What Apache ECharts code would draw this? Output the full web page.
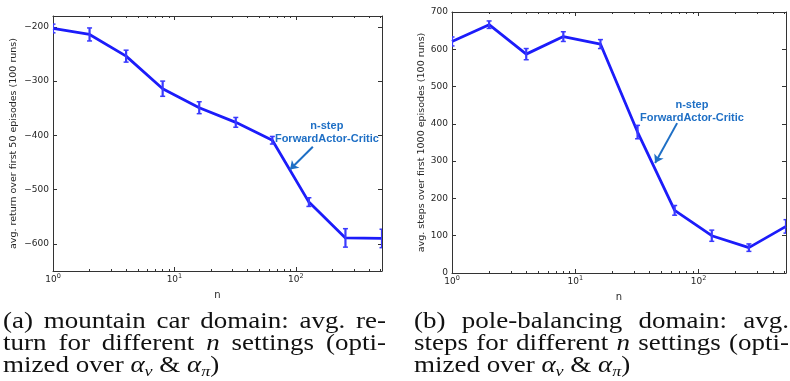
<!DOCTYPE html>
<html>
<head>
<meta charset="utf-8">
<script src="https://cdn.jsdelivr.net/npm/echarts@6/dist/echarts.min.js"></script>
<style>
  html, body { margin: 0; padding: 0; background: #fff; }
  #chart { width: 790px; height: 381px; }
</style>
</head>
<body>
<div id="chart"></div>
<script>
// n settings (x axis, log scale)
const nSteps = [1, 2, 4, 8, 16, 32, 64, 128, 256, 512];
// (a) mountain car: avg. return over first 50 episodes
const returnMean = [-203, -214, -254, -314, -349, -376, -409, -523, -589, -590];
const returnErr = [8, 12, 11, 14, 11, 9, 7, 8, 17, 17];
// (b) pole-balancing: avg. steps over first 1000 episodes
const stepsMean = [621, 666, 587, 634, 614, 378, 168, 100, 68, 125];
const stepsErr = [12, 10, 15, 13, 12, 18, 13, 15, 10, 18];
// ticks
const returnTicks = [-600, -500, -400, -300, -200];
const stepsTicks = [0, 100, 200, 300, 400, 500, 600, 700];
const decadeTicks = [1, 10, 100];
const minorTicks = [2, 3, 4, 5, 6, 7, 8, 9, 20, 30, 40, 50, 60, 70, 80, 90, 200, 300, 400, 500];
// annotation anchors, in data coordinates [n, value]
const annoTextA = [180, -394];
const annoArrowA = [[138, -421], [89.5, -463]];
const annoTextB = [88.4, 434];
const annoArrowB = [[67, 402], [44.4, 295]];

const captionA = [
  '(a) mountain car domain: avg. re-',
  'turn for different {n} settings (opti-',
  'mized over {α}[v] & {α}[π])'
];
const captionB = [
  '(b) pole-balancing domain: avg.',
  'steps for different {n} settings (opti-',
  'mized over {α}[v] & {α}[π])'
];

const sans = '"DejaVu Sans", sans-serif';
const axisColor = '#333';
const labelColor = '#262626';
const lineBlue = '#1c1cfa';
const barBlue = '#3a3aff';
const annoBlue = '#1e6fc5';

function minusFmt(v) {
  return String(v).replace('-', '\u2212');
}

function pow10Fmt(v) {
  const e = Math.round(Math.log10(v));
  return '{b|10}{s|' + e + '}';
}

function xAxes(grid) {
  const base = {
    type: 'log', logBase: 10, min: 1, max: 512, gridIndex: grid,
    splitLine: { show: false }
  };
  const line = { show: true, onZero: false, lineStyle: { color: axisColor, width: 1 } };
  return [
    {
      ...base, position: 'bottom', axisLine: line,
      axisTick: { inside: true, length: 4, customValues: decadeTicks, lineStyle: { color: axisColor } },
      axisLabel: {
        customValues: decadeTicks, formatter: pow10Fmt, margin: 3,
        rich: {
          b: { fontSize: 9, fontFamily: sans, color: labelColor, lineHeight: 10, verticalAlign: 'bottom' },
          s: { fontSize: 6.5, fontFamily: sans, color: labelColor, lineHeight: 7, padding: [0, 0, 6, 0] }
        }
      },
      name: 'n', nameLocation: 'middle', nameGap: 16,
      nameTextStyle: { fontSize: 10, fontFamily: sans, color: labelColor }
    },
    {
      ...base, position: 'bottom', axisLine: { show: false, onZero: false },
      axisTick: { inside: true, length: 2, customValues: minorTicks, lineStyle: { color: axisColor } },
      axisLabel: { show: false }
    },
    {
      ...base, position: 'top', axisLine: line,
      axisTick: { inside: true, length: 4, customValues: decadeTicks, lineStyle: { color: axisColor } },
      axisLabel: { show: false }
    },
    {
      ...base, position: 'top', axisLine: { show: false, onZero: false },
      axisTick: { inside: true, length: 2, customValues: minorTicks, lineStyle: { color: axisColor } },
      axisLabel: { show: false }
    }
  ];
}

function yAxes(grid, min, max, ticks, name, nameGap) {
  const base = {
    type: 'value', min: min, max: max, gridIndex: grid,
    splitLine: { show: false },
    axisLine: { show: true, onZero: false, lineStyle: { color: axisColor, width: 1 } },
    axisTick: { inside: true, length: 4, customValues: ticks, lineStyle: { color: axisColor } }
  };
  return [
    {
      ...base, position: 'left',
      axisLabel: { customValues: ticks, formatter: minusFmt, margin: 4, fontSize: 9, fontFamily: sans, color: labelColor },
      name: name, nameLocation: 'middle', nameGap: nameGap, nameRotate: 90,
      nameTextStyle: { fontSize: 9.5, fontFamily: sans, color: labelColor }
    },
    { ...base, position: 'right', axisLabel: { show: false } }
  ];
}

function errorBars(xi, yi, mean, err) {
  return {
    type: 'custom', xAxisIndex: xi, yAxisIndex: yi, clip: true, z: 3,
    data: nSteps.map((n, i) => [n, mean[i], err[i]]),
    renderItem: function (params, api) {
      const x = api.value(0), y = api.value(1), e = api.value(2);
      const hi = api.coord([x, y + e]);
      const lo = api.coord([x, y - e]);
      const cap = { stroke: barBlue, lineWidth: 1.5 };
      return {
        type: 'group',
        children: [
          { type: 'line', shape: { x1: hi[0], y1: hi[1], x2: lo[0], y2: lo[1] }, style: { stroke: barBlue, lineWidth: 2.2 } },
          { type: 'line', shape: { x1: hi[0] - 2.5, y1: hi[1], x2: hi[0] + 2.5, y2: hi[1] }, style: cap },
          { type: 'line', shape: { x1: lo[0] - 2.5, y1: lo[1], x2: lo[0] + 2.5, y2: lo[1] }, style: cap }
        ]
      };
    }
  };
}

function lineSeries(xi, yi, mean, textAt, arrow) {
  return {
    type: 'line', xAxisIndex: xi, yAxisIndex: yi, z: 2,
    data: nSteps.map((n, i) => [n, mean[i]]),
    symbol: 'none', smooth: false,
    lineStyle: { color: lineBlue, width: 2.8 },
    itemStyle: { color: lineBlue },
    markLine: {
      silent: true, symbol: ['none', 'arrow'], symbolSize: 8,
      lineStyle: { color: annoBlue, width: 2, type: 'solid' },
      label: { show: false },
      data: [[{ coord: arrow[0] }, { coord: arrow[1] }]]
    },
    markPoint: {
      silent: true, symbol: 'rect', symbolSize: 1,
      itemStyle: { color: 'rgba(0,0,0,0)' },
      label: {
        show: true, position: 'inside', formatter: 'n-step\nForwardActor-Critic',
        fontFamily: '"Liberation Sans", Arial, sans-serif', fontWeight: 'bold',
        fontSize: 11, lineHeight: 13, color: annoBlue, align: 'center'
      },
      data: [{ coord: textAt }]
    }
  };
}

// caption layout: justified lines like the LaTeX source
const capFont = '"Liberation Serif", "DejaVu Serif", serif';
const capSize = 22.5;
const subSize = 15;
const capStretch = 1.2;
const meas = document.createElement('canvas').getContext('2d');

function parseWord(w) {
  const segs = [];
  const re = /\{([^}]*)\}|\[([^\]]*)\]|([^{\[]+)/g;
  let m;
  while ((m = re.exec(w))) {
    if (m[1] !== undefined) segs.push({ text: m[1], kind: 'i' });
    else if (m[2] !== undefined) segs.push({ text: m[2], kind: 's' });
    else segs.push({ text: m[3], kind: 'r' });
  }
  return segs;
}

function segFont(g) {
  const size = g.kind === 's' ? subSize : capSize;
  const style = g.kind === 'r' ? 'normal' : 'italic';
  return { size: size, style: style };
}

function segWidth(g) {
  const f = segFont(g);
  meas.font = f.style + ' ' + f.size + 'px ' + capFont;
  return meas.measureText(g.text).width * capStretch;
}

function captionGraphics(lines, x0, x1, y0, lh) {
  const out = [];
  lines.forEach((line, li) => {
    const words = line.split(' ').map(parseWord);
    const widths = words.map(w => w.reduce((s, g) => s + segWidth(g), 0));
    const total = widths.reduce((a, b) => a + b, 0);
    meas.font = capSize + 'px ' + capFont;
    const last = li === lines.length - 1;
    const gap = last ? meas.measureText(' ').width * capStretch : (x1 - x0 - total) / (words.length - 1);
    const y = y0 + li * lh;
    let x = x0;
    words.forEach(w => {
      w.forEach(g => {
        const f = segFont(g);
        out.push({
          type: 'text', silent: true,
          x: x, y: g.kind === 's' ? y + 6 : y,
          scaleX: capStretch,
          style: {
            text: g.text, fontFamily: capFont, fontSize: f.size, fontStyle: f.style,
            fill: '#111', align: 'left', verticalAlign: 'middle',
            textAlign: 'left', textVerticalAlign: 'middle'
          }
        });
        x += segWidth(g);
      });
      x += gap;
    });
  });
  return out;
}

const chart = echarts.init(document.getElementById('chart'), null, { renderer: 'canvas' });

chart.setOption({
  animation: false,
  backgroundColor: '#fff',
  grid: [
    { left: 53, top: 16, width: 329, height: 255 },
    { left: 452, top: 12, width: 334, height: 261 }
  ],
  xAxis: [].concat(xAxes(0), xAxes(1)),
  yAxis: [].concat(
    yAxes(0, -650, -180, returnTicks, 'avg. return over first 50 episodes (100 runs)', 34),
    yAxes(1, 0, 700, stepsTicks, 'avg. steps over first 1000 episodes (100 runs)', 24)
  ),
  series: [
    lineSeries(0, 0, returnMean, annoTextA, annoArrowA),
    errorBars(0, 0, returnMean, returnErr),
    lineSeries(4, 2, stepsMean, annoTextB, annoArrowB),
    errorBars(4, 2, stepsMean, stepsErr)
  ],
  graphic: [].concat(
    captionGraphics(captionA, 3, 386, 322, 22),
    captionGraphics(captionB, 414, 789, 322, 22)
  )
});
</script>
</body>
</html>
